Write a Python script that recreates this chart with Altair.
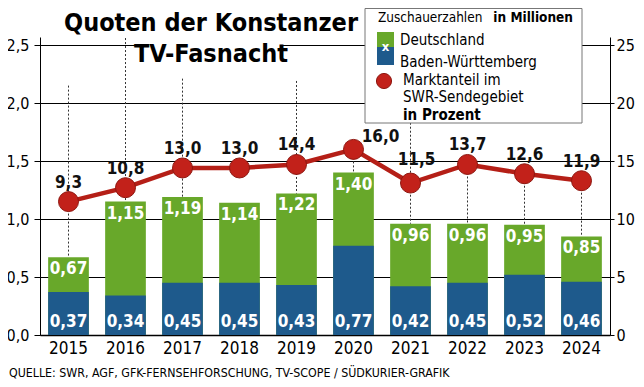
import altair as alt
import pandas as pd

# ---------------- data ----------------
years = ["2015", "2016", "2017", "2018", "2019", "2020", "2021", "2022", "2023", "2024"]
deutschland = [0.67, 1.15, 1.19, 1.14, 1.22, 1.40, 0.96, 0.96, 0.95, 0.85]      # Mio.
baden_wuerttemberg = [0.37, 0.34, 0.45, 0.45, 0.43, 0.77, 0.42, 0.45, 0.52, 0.46]  # Mio.
marktanteil = [9.3, 10.8, 13.0, 13.0, 14.4, 16.0, 11.5, 13.7, 12.6, 11.9]       # % (labels)
marktanteil_drawn = [11.5, 12.7, 14.4, 14.4, 14.7, 16.0, 13.1, 14.7, 13.9, 13.3]  # % (point height as drawn)
guide_top = [2.15, 2.56, 2.21, None, 2.19, 1.60, 1.83, 1.47, 1.39, 1.33]        # dotted leader tops (left units)

left_ticks = [0, 0.5, 1.0, 1.5, 2.0, 2.5]
right_ticks = [0, 5, 10, 15, 20, 25]

GREEN = "#68a82a"
BLUE = "#1e5a8c"
RED = "#c2211a"
DARKRED = "#8e1710"
FONT = "DejaVu Sans Condensed, Roboto Condensed, Roboto, sans-serif"
TFONT = "DejaVu Sans Condensed, Roboto Condensed, Roboto, sans-serif"


def de_fmt(v, d):
    return f"{v:.{d}f}".replace(".", ",")


df = pd.DataFrame({
    "year": years,
    "de": deutschland,
    "bw": baden_wuerttemberg,
    "share": marktanteil,
    "share_pos": marktanteil_drawn,
    "guide_top": guide_top,
})
df["de_lbl"] = [de_fmt(v, 2) for v in df["de"]]
df["bw_lbl"] = [de_fmt(v, 2) for v in df["bw"]]
df["share_lbl"] = [de_fmt(v, 1) for v in df["share"]]

one = pd.DataFrame({"a": [0]})

xenc = alt.X("year:O", title=None,
             scale=alt.Scale(paddingInner=0.286, paddingOuter=0.143),
             axis=alt.Axis(labelFontSize=17, labelFont=FONT, labelColor="black",
                           labelAngle=0, ticks=False, labelPadding=5,
                           domainColor="black", domainWidth=1.5))

yscale_l = alt.Scale(domain=[0, 2.569], nice=False, zero=True)
yscale_r = alt.Scale(domain=[0, 25.69], nice=False, zero=True)

yaxis_l = alt.Axis(values=left_ticks, labelExpr="replace(format(datum.value,'.1f'),'.',',')",
                   grid=True, gridColor="black", gridWidth=1, gridOpacity=1,
                   domainColor="black", tickColor="black", tickSize=6,
                   labelFontSize=16, labelFont=FONT, labelColor="black",
                   labelPadding=5, title=None)
yaxis_r = alt.Axis(orient="right", values=right_ticks, format="d", grid=False,
                   domainColor="black", tickColor="black", tickSize=4,
                   labelFontSize=16, labelFont=FONT, labelColor="black",
                   labelPadding=2, title=None)


def yl(field):
    return alt.Y(field, scale=yscale_l, title=None, axis=yaxis_l)


def yr(field):
    return alt.Y(field, scale=yscale_r, title=None, axis=yaxis_r)


base = alt.Chart(df)

bars_de = base.mark_bar(color=GREEN).encode(x=xenc, y=yl("de:Q"))
bars_bw = base.mark_bar(color=BLUE).encode(x=xenc, y=yl("bw:Q"))

guides = base.transform_filter("isValid(datum.guide_top)").mark_rule(
    color="#333", strokeDash=[2, 2], strokeWidth=1
).encode(x=xenc, y=yl("guide_top:Q"), y2="de:Q")

lbl_de = base.mark_text(color="white", fontWeight="bold", fontSize=17, font=FONT,
                        baseline="alphabetic", dy=17).encode(
    x=xenc, y=yl("de:Q"), text="de_lbl:N")
lbl_bw = base.mark_text(color="white", fontWeight="bold", fontSize=17, font=FONT,
                        baseline="alphabetic", dy=-8).encode(
    x=xenc, y=alt.Y(datum=0, scale=yscale_l, title=None, axis=yaxis_l), text="bw_lbl:N")

left = alt.layer(bars_de, bars_bw, guides, lbl_de, lbl_bw)

line = base.mark_line(color="#b51f17", strokeWidth=4.5).encode(x=xenc, y=yr("share_pos:Q"))
points = base.mark_point(filled=True, size=400, fill=RED, stroke=DARKRED, strokeWidth=1,
                         opacity=1).encode(x=xenc, y=yr("share_pos:Q"))

lbl_share = base.transform_filter("datum.year != '2020' && datum.year != '2021'").mark_text(
    fontWeight="bold", fontSize=17, font=FONT, color="#111", baseline="alphabetic", dy=-14
).encode(x=xenc, y=yr("share_pos:Q"), text="share_lbl:N")
lbl_share20 = base.transform_filter("datum.year == '2020'").mark_text(
    fontWeight="bold", fontSize=17, font=FONT, color="#111", baseline="alphabetic", dx=27, dy=-7
).encode(x=xenc, y=yr("share_pos:Q"), text="share_lbl:N")
lbl_share21 = base.transform_filter("datum.year == '2021'").mark_text(
    fontWeight="bold", fontSize=17, font=FONT, color="#111", baseline="alphabetic", dx=6, dy=-18
).encode(x=xenc, y=yr("share_pos:Q"), text="share_lbl:N")

# ---------------- annotations: title, legend, source ----------------
ann = alt.Chart(one)


def txt(s, x, y, size=15, weight="normal", align="left", color="black", font=FONT):
    return ann.mark_text(fontSize=size, fontWeight=weight, align=align, baseline="alphabetic",
                         color=color, font=font).encode(
        x=alt.value(x), y=alt.value(y), text=alt.value(s))


title_bg = ann.mark_rect(color="white").encode(
    x=alt.value(100), x2=alt.value(243), y=alt.value(-2), y2=alt.value(30))
title1 = txt("Quoten der Konstanzer", 171, -6, size=25, weight="bold", align="center", font=TFONT)
title2 = txt("TV-Fasnacht", 171, 25, size=25, weight="bold", align="center", font=TFONT)

leg_box = ann.mark_rect(fill="white", stroke="#777", strokeWidth=1).encode(
    x=alt.value(325), x2=alt.value(542), y=alt.value(-28.5), y2=alt.value(86))
leg_t1 = txt("Zuschauerzahlen", 338, -15, size=13.5)
leg_t1b = txt("in Millionen", 533, -15, size=13.5, weight="bold", align="right")
sq_g = ann.mark_rect(color=GREEN).encode(x=alt.value(337), x2=alt.value(354), y=alt.value(-5), y2=alt.value(10))
sq_b = ann.mark_rect(color=BLUE).encode(x=alt.value(337), x2=alt.value(354), y=alt.value(10), y2=alt.value(28))
sq_x = txt("x", 345.5, 14, size=13, weight="bold", align="center", color="white")
leg_de = txt("Deutschland", 360, 8)
leg_bw = txt("Baden-Württemberg", 360, 30)
leg_dot = ann.mark_point(filled=True, size=230, fill=RED, stroke=DARKRED, strokeWidth=1, opacity=1).encode(
    x=alt.value(344), y=alt.value(44))
leg_m1 = txt("Marktanteil  im", 363, 48)
leg_m2 = txt("SWR-Sendegebiet", 363, 65)
leg_m3 = txt("in Prozent", 363, 83, weight="bold")

source = txt("QUELLE: SWR, AGF, GFK-FERNSEHFORSCHUNG, TV-SCOPE / SÜDKURIER-GRAFIK", -31, 340, size=12.3)

right = alt.layer(line, points, lbl_share, lbl_share20, lbl_share21,
                  title_bg, title1, title2,
                  leg_box, leg_t1, leg_t1b, sq_g, sq_b, sq_x, leg_de, leg_bw, leg_dot,
                  leg_m1, leg_m2, leg_m3, source)

chart = alt.layer(left, right).resolve_scale(y="independent").properties(
    width=570, height=298,
    padding={"left": 32, "top": 29, "right": 26, "bottom": 44},
    autosize=alt.AutoSizeParams(type="none"),
    background="white",
).configure_view(stroke=None)

chart.save("out.html", embed_options={"renderer": "svg", "actions": False})
